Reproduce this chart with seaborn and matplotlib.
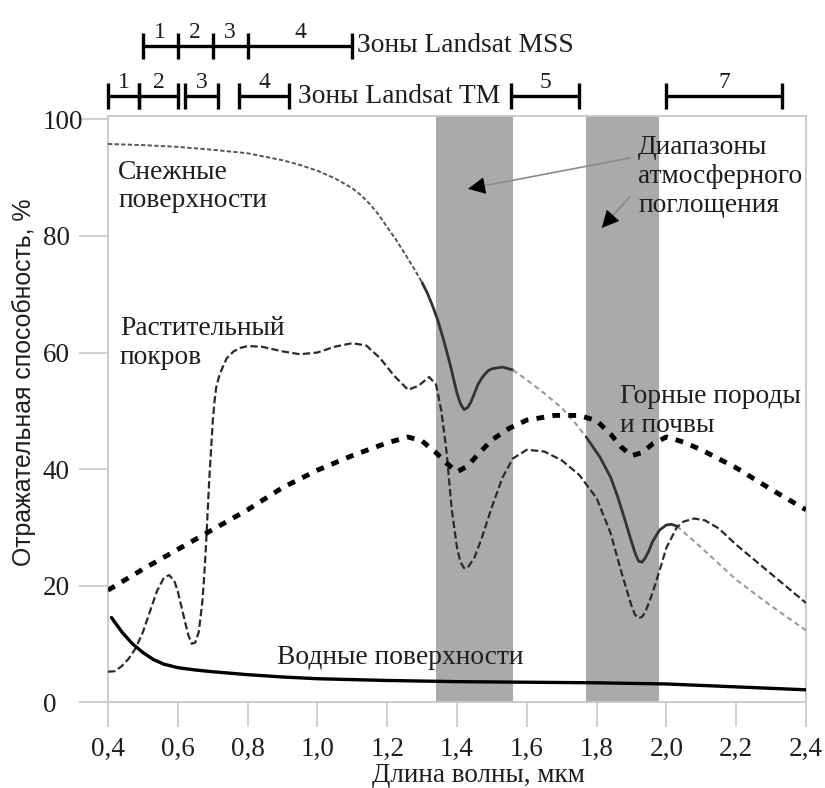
import matplotlib
matplotlib.use("Agg")
import matplotlib.pyplot as plt
import seaborn as sns

# Spectral reflectance curves: wavelength (µm) -> reflectance (%)
snow_x = [0.40, 0.50, 0.60, 0.70, 0.80, 0.90, 0.95, 1.00, 1.05, 1.10,
          1.125, 1.15, 1.175, 1.20, 1.225, 1.25, 1.275, 1.30, 1.315, 1.33,
          1.345, 1.36, 1.37, 1.38, 1.39, 1.40, 1.41, 1.42, 1.43, 1.44,
          1.45, 1.46, 1.47, 1.48, 1.49, 1.50, 1.53, 1.56, 1.60, 1.65,
          1.70, 1.74, 1.77, 1.81, 1.84, 1.86, 1.88, 1.90, 1.91, 1.92,
          1.93, 1.94, 1.95, 1.96, 1.98, 2.00, 2.015, 2.03, 2.10, 2.20,
          2.30, 2.40]
snow_y = [95.8, 95.6, 95.3, 94.8, 94.2, 93.0, 92.2, 91.2, 89.9, 88.2,
          87.0, 85.5, 83.7, 81.5, 79.4, 77.0, 74.6, 72.0, 70.2, 68.0,
          65.5, 62.5, 60.3, 58.0, 55.5, 53.0, 51.2, 50.2, 50.5, 51.5,
          53.0, 54.5, 55.5, 56.3, 56.9, 57.2, 57.5, 57.0, 55.3, 53.0,
          50.5, 47.8, 45.5, 42.0, 38.6, 35.3, 31.5, 27.5, 25.6, 24.2,
          24.0, 24.8, 26.0, 27.5, 29.5, 30.4, 30.5, 30.2, 26.5, 21.0,
          16.5, 12.3]
# (start, end, style) pieces of the snow curve
snow_segments = [(0.40, 1.30, "fine"), (1.30, 1.56, "solid"),
                 (1.56, 1.77, "faint"), (1.77, 2.03, "solid"),
                 (2.03, 2.40, "faint")]

veg_x = [0.40, 0.42, 0.44, 0.46, 0.48, 0.50, 0.52, 0.54, 0.56, 0.575,
         0.59, 0.60, 0.615, 0.63, 0.64, 0.65, 0.66, 0.67, 0.675, 0.68,
         0.685, 0.69, 0.695, 0.70, 0.705, 0.71, 0.72, 0.74, 0.76, 0.78,
         0.80, 0.84, 0.90, 0.95, 1.00, 1.05, 1.10, 1.14, 1.18, 1.22,
         1.26, 1.29, 1.32, 1.34, 1.355, 1.37, 1.385, 1.40, 1.41, 1.42,
         1.43, 1.45, 1.47, 1.50, 1.53, 1.56, 1.60, 1.65, 1.70, 1.75,
         1.80, 1.84, 1.87, 1.90, 1.91, 1.92, 1.93, 1.94, 1.96, 1.98,
         2.00, 2.03, 2.05, 2.08, 2.11, 2.15, 2.20, 2.27, 2.34, 2.40]
veg_y = [5.2, 5.3, 6.2, 7.5, 9.3, 12.0, 15.5, 19.0, 21.3, 21.8,
         20.8, 19.0, 15.2, 11.5, 10.0, 10.2, 12.0, 17.0, 21.0, 26.0,
         32.0, 38.0, 43.0, 48.0, 51.5, 54.0, 56.3, 59.0, 60.2, 60.8,
         61.1, 61.0, 60.2, 59.7, 60.0, 61.0, 61.6, 61.2, 59.0, 56.0,
         53.6, 54.3, 55.8, 54.5, 50.0, 43.0, 33.0, 26.5, 24.0, 23.0,
         23.0, 24.8, 28.0, 33.5, 38.5, 41.8, 43.3, 43.0, 41.5, 39.0,
         35.0, 29.0, 22.5, 16.5, 15.0, 14.4, 14.6, 15.5, 18.7, 22.5,
         26.5, 30.0, 31.0, 31.5, 31.2, 29.8, 27.0, 23.5, 20.0, 17.0]

soil_x = [0.40, 0.50, 0.60, 0.70, 0.80, 0.90, 1.00, 1.10, 1.20, 1.26,
          1.30, 1.34, 1.37, 1.40, 1.43, 1.46, 1.50, 1.55, 1.60, 1.68,
          1.75, 1.80, 1.84, 1.87, 1.90, 1.93, 1.96, 2.00, 2.05, 2.10,
          2.20, 2.30, 2.40]
soil_y = [19.2, 22.8, 26.2, 29.6, 33.0, 36.8, 39.8, 42.3, 44.5, 45.5,
          44.8, 42.8, 41.0, 39.5, 40.5, 42.5, 45.0, 47.0, 48.4, 49.2,
          49.2, 48.3, 46.0, 43.8, 42.3, 42.8, 44.3, 45.5, 44.6, 43.3,
          40.2, 36.5, 33.0]

water_x = [0.41, 0.44, 0.47, 0.50, 0.53, 0.56, 0.60, 0.65, 0.70, 0.80,
           0.90, 1.00, 1.20, 1.40, 1.60, 1.80, 2.00, 2.20, 2.40]
water_y = [14.5, 12.0, 10.0, 8.5, 7.3, 6.5, 5.9, 5.5, 5.2, 4.7,
           4.3, 4.0, 3.7, 3.5, 3.4, 3.3, 3.1, 2.6, 2.1]

# Atmospheric absorption windows (µm)
absorption_bands = [(1.34, 1.56), (1.77, 1.98)]

# Landsat spectral zones (µm)
mss_edges = [0.50, 0.60, 0.70, 0.80, 1.10]
mss_labels = ["1", "2", "3", "4"]
tm_bands = [(0.40, 0.49), (0.49, 0.60), (0.62, 0.715), (0.775, 0.92),
            (1.555, 1.75), (2.00, 2.33)]
tm_labels = ["1", "2", "3", "4", "5", "7"]

x_ticks = [0.4, 0.6, 0.8, 1.0, 1.2, 1.4, 1.6, 1.8, 2.0, 2.2, 2.4]
x_tick_labels = ["0,4", "0,6", "0,8", "1,0", "1,2", "1,4", "1,6", "1,8",
                 "2,0", "2,2", "2,4"]
y_ticks = [0, 20, 40, 60, 80, 100]

sns.set_theme(style="white")
plt.rcParams["font.family"] = ["Liberation Serif", "DejaVu Serif"]

fig = plt.figure(figsize=(8.25, 7.88), dpi=100)
ax = fig.add_axes([0.1309, 0.1091, 0.8461, 0.7437])

spine_col = "#c8c8c8"
text_col = "#1e1e1e"
for sp in ax.spines.values():
    sp.set_color(spine_col)
    sp.set_linewidth(1.3)

for a, b in absorption_bands:
    ax.axvspan(a, b, color="#aaaaaa", lw=0, zorder=0.5)

# Snow curve, drawn piece by piece
styles = {
    "fine": dict(color="#555555", linewidth=1.4, linestyle=(0, (2.2, 1.2))),
    "solid": dict(color="#333333", linewidth=2.0, linestyle="-"),
    "faint": dict(color="#9a9a9a", linewidth=1.5, linestyle=(0, (2.5, 1.8))),
}
for a, b, st in snow_segments:
    xs = [x for x in snow_x if a <= x <= b]
    ys = [y for x, y in zip(snow_x, snow_y) if a <= x <= b]
    sns.lineplot(x=xs, y=ys, ax=ax, estimator=None, sort=False, zorder=3,
                 **styles[st])

sns.lineplot(x=veg_x, y=veg_y, ax=ax, estimator=None, sort=False,
             color="#2a2a2a", linewidth=1.6, linestyle=(0, (3.3, 1.5)),
             zorder=3)
sns.lineplot(x=soil_x, y=soil_y, ax=ax, estimator=None, sort=False,
             color="black", linewidth=3.5, linestyle=(0, (1.6, 1.7)),
             zorder=4)
sns.lineplot(x=water_x, y=water_y, ax=ax, estimator=None, sort=False,
             color="black", linewidth=2.4, zorder=4)

ax.set_xlim(0.4, 2.4)
ax.set_ylim(0, 100.6)
ax.set_xticks(x_ticks)
ax.set_xticklabels(x_tick_labels)
ax.set_yticks(y_ticks)
ax.tick_params(axis="both", which="major", direction="out", color=spine_col,
               width=1.2, labelsize=19.5, labelcolor=text_col,
               bottom=True, left=True)
ax.tick_params(axis="x", length=18, pad=7)
ax.tick_params(axis="y", length=21, pad=25.8)
for lbl in ax.get_yticklabels():
    lbl.set_horizontalalignment("left")

ax.set_xlabel("Длина волны, мкм", fontsize=19.5, color=text_col)
ax.xaxis.set_label_coords(0.53, -0.104)
ax.set_ylabel("Отражательная способность, %", fontsize=17.9,
              color=text_col, family=["Liberation Sans", "DejaVu Sans"])
ax.yaxis.set_label_coords(-0.103, 0.545)

txt = dict(fontsize=19.8, color=text_col, ha="left", va="center")
ax.text(0.429, 88.5, "Снежные\nповерхности", **txt)
ax.text(0.434, 61.6, "Растительный\nпокров", **txt)
ax.text(0.884, 7.7, "Водные поверхности", **txt)
ax.text(1.867, 50.0, "Горные породы\nи почвы", **txt)
ax.text(1.919, 90.2, "Диапазоны\nатмосферного\nпоглощения", **txt)

# Arrows pointing at the absorption windows
for (x0, y0), (x1, y1) in [((1.896, 93.4), (1.432, 88.1)),
                           ((1.896, 86.8), (1.815, 81.4))]:
    ax.annotate("", xy=(x1, y1), xytext=(x0, y0),
                arrowprops=dict(arrowstyle="-", color="#8a8a8a", lw=1.2,
                                shrinkA=0, shrinkB=0), zorder=5)
    fx = x1 + (x0 - x1) * 0.09
    fy = y1 + (y0 - y1) * 0.09
    ax.annotate("", xy=(x1, y1), xytext=(fx, fy),
                arrowprops=dict(arrowstyle="-|>,head_length=0.9,head_width=0.45",
                                color="black", lw=0.8, shrinkA=0, shrinkB=0),
                zorder=5)

# Landsat zone scales above the plot
tr = ax.get_xaxis_transform()
bar_kw = dict(color="black", lw=2.4, transform=tr, clip_on=False,
              solid_capstyle="butt")
mss_y, tm_y, half = 1.1195, 1.034, 0.0215
ax.plot([mss_edges[0], mss_edges[-1]], [mss_y, mss_y], **bar_kw)
for e in mss_edges:
    ax.plot([e, e], [mss_y - half, mss_y + half], **bar_kw)
for i, lab in enumerate(mss_labels):
    ax.text((mss_edges[i] + mss_edges[i + 1]) / 2, mss_y + 0.014, lab,
            transform=tr, ha="center", va="baseline", fontsize=17,
            color=text_col)
ax.text(1.113, mss_y, "Зоны Landsat MSS", transform=tr, ha="left",
        va="center", fontsize=19.8, color=text_col)

for (a, b), lab in zip(tm_bands, tm_labels):
    ax.plot([a, b], [tm_y, tm_y], **bar_kw)
    for e in (a, b):
        ax.plot([e, e], [tm_y - half, tm_y + half], **bar_kw)
    ax.text((a + b) / 2, tm_y + 0.014, lab, transform=tr, ha="center",
            va="baseline", fontsize=17, color=text_col)
ax.text(0.944, tm_y, "Зоны Landsat TM", transform=tr, ha="left",
        va="center", fontsize=19.8, color=text_col)

fig.savefig("out.png", dpi=100)
